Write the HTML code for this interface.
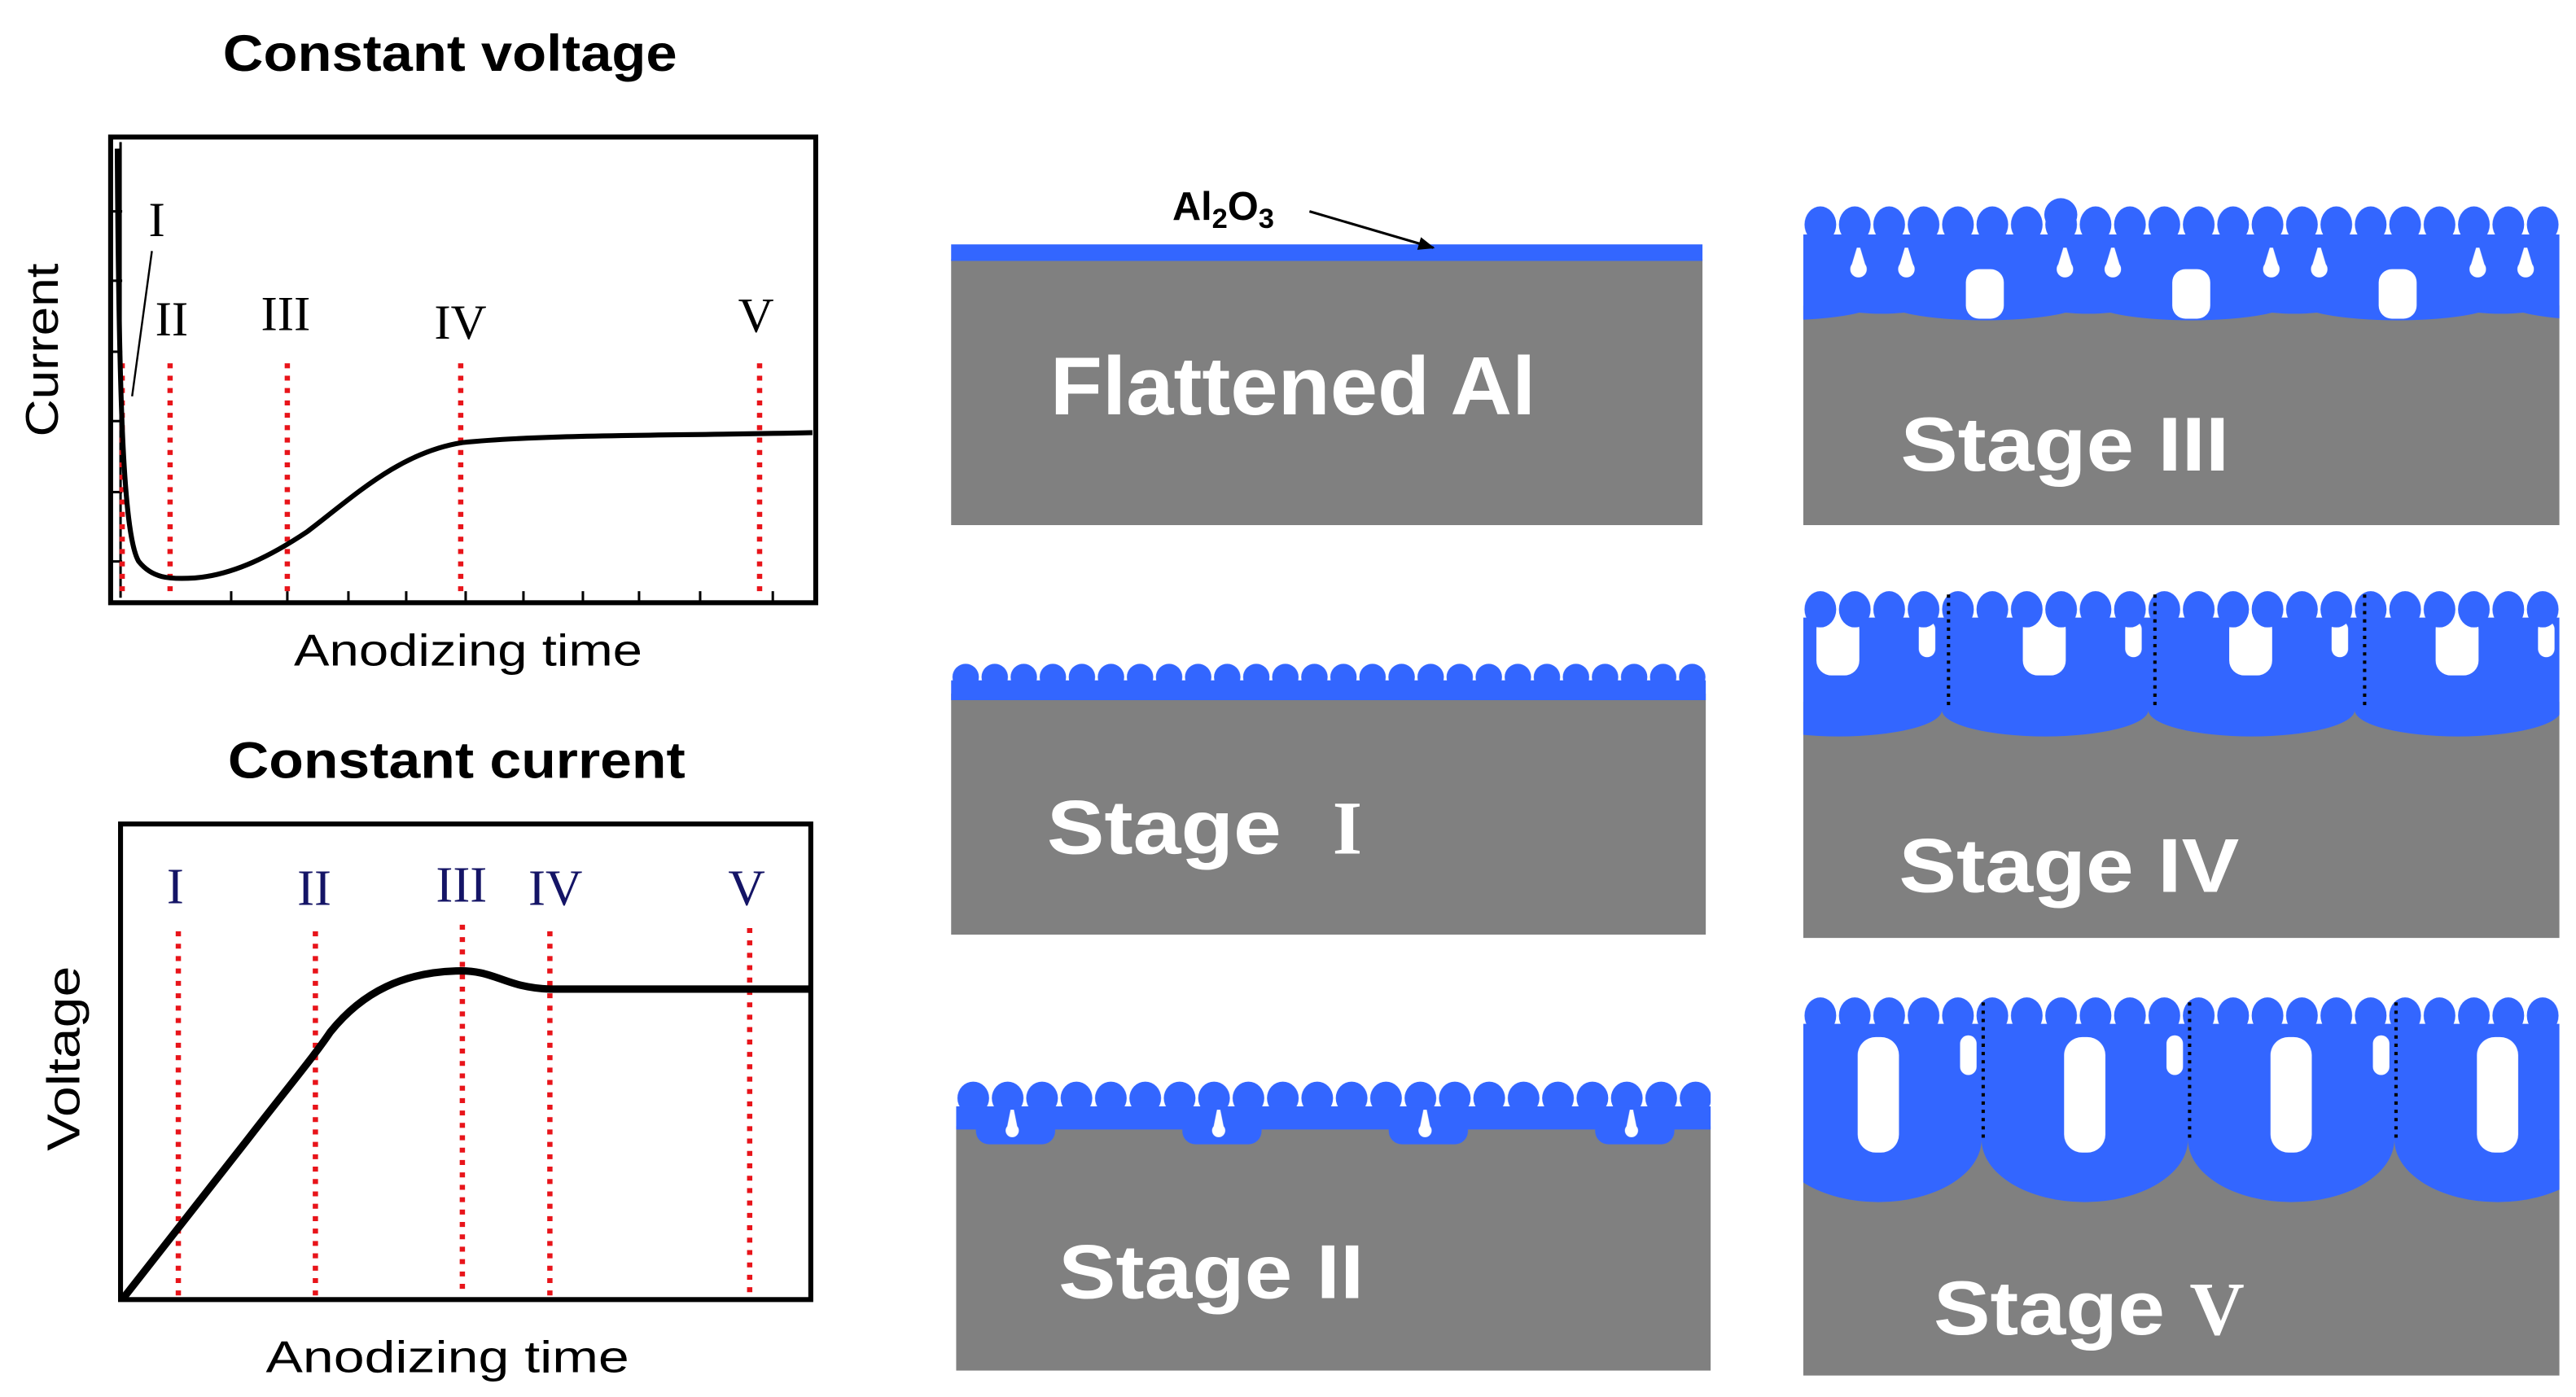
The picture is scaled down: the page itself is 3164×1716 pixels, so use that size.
<!DOCTYPE html>
<html><head><meta charset="utf-8"><style>
html,body{margin:0;padding:0;background:#fff;}
svg{display:block;}
</style></head><body>
<svg width="3164" height="1716" viewBox="0 0 1560 846" preserveAspectRatio="none" xmlns="http://www.w3.org/2000/svg">
<defs>
  <pattern id="b1" patternUnits="userSpaceOnUse" x="576" y="0" width="17.6" height="846">
    <circle cx="8.8" cy="410" r="8" fill="#3366ff"/>
  </pattern>
  <pattern id="b2" patternUnits="userSpaceOnUse" x="579" y="0" width="20.83" height="846">
    <ellipse cx="10.4" cy="665" rx="9.6" ry="10" fill="#3366ff"/>
  </pattern>
  <pattern id="b3" patternUnits="userSpaceOnUse" x="1092" y="0" width="20.83" height="846">
    <ellipse cx="10.4" cy="136" rx="9.6" ry="11" fill="#3366ff"/>
  </pattern>
  <pattern id="b4" patternUnits="userSpaceOnUse" x="1092" y="0" width="20.83" height="846">
    <ellipse cx="10.4" cy="369" rx="9.6" ry="11" fill="#3366ff"/>
  </pattern>
  <pattern id="b5" patternUnits="userSpaceOnUse" x="1092" y="0" width="20.83" height="846">
    <ellipse cx="10.4" cy="615" rx="9.6" ry="11" fill="#3366ff"/>
  </pattern>
  <pattern id="c2" patternUnits="userSpaceOnUse" x="579" y="0" width="125" height="846">
    <rect x="0" y="670" width="125" height="14" fill="#3366ff"/>
    <rect x="12" y="676" width="48" height="17" rx="8" fill="#3366ff"/>
    <path d="M33 672 L35 672 L37 682 A4 4 0 1 1 31 682 Z" fill="#fff"/>
  </pattern>
  <pattern id="c3" patternUnits="userSpaceOnUse" x="1139.5" y="0" width="125" height="846">
    <rect x="0" y="142" width="125" height="40" fill="#3366ff"/>
    <ellipse cx="62.5" cy="182" rx="62" ry="12" fill="#3366ff"/>
    <ellipse cx="0" cy="182" rx="34" ry="8" fill="#3366ff"/>
    <ellipse cx="125" cy="182" rx="34" ry="8" fill="#3366ff"/>
    <rect x="51" y="163" width="23" height="30" rx="8" fill="#fff"/>
    <path d="M14 150 L16 150 L19 160 A5 5 0 1 1 11 160 Z" fill="#fff"/>
    <path d="M110 150 L112 150 L115 160 A5 5 0 1 1 107 160 Z" fill="#fff"/>
  </pattern>
  <pattern id="c4" patternUnits="userSpaceOnUse" x="1051" y="0" width="125" height="846">
    <rect x="0" y="374" width="125" height="56" fill="#3366ff"/>
    <ellipse cx="62.5" cy="430" rx="62.5" ry="16" fill="#3366ff"/>
    <rect x="49" y="372" width="26" height="37" rx="9" fill="#fff"/>
    <rect x="111" y="376" width="10" height="22" rx="5" fill="#fff"/>
  </pattern>
  <pattern id="c5" patternUnits="userSpaceOnUse" x="1075" y="0" width="125" height="846">
    <rect x="0" y="620" width="125" height="70" fill="#3366ff"/>
    <ellipse cx="62.5" cy="690" rx="62.5" ry="38" fill="#3366ff"/>
    <rect x="50" y="628" width="25" height="70" rx="11" fill="#fff"/>
    <rect x="112" y="627" width="10" height="24" rx="5" fill="#fff"/>
  </pattern>
  <clipPath id="k3"><rect x="1092" y="110" width="458" height="210"/></clipPath>
  <clipPath id="k4"><rect x="1092" y="350" width="458" height="220"/></clipPath>
  <clipPath id="k5"><rect x="1092" y="598" width="458" height="236"/></clipPath>
  <clipPath id="k2"><rect x="579" y="645" width="457" height="186"/></clipPath>
  <marker id="ar" markerWidth="10" markerHeight="8" refX="9" refY="4" orient="auto" markerUnits="userSpaceOnUse">
    <path d="M0 0 L10 4 L0 8 Z" fill="#000"/>
  </marker>
</defs>

<text x="135" y="43" font-family="Liberation Sans, sans-serif" font-weight="bold" font-size="31" textLength="275" lengthAdjust="spacingAndGlyphs">Constant voltage</text>
<rect x="67" y="83" width="427" height="282" fill="none" stroke="#000" stroke-width="3"/>
<line x1="73" y1="86" x2="73" y2="362" stroke="#000" stroke-width="1.5"/>
<g stroke="#000" stroke-width="1.5">
  <line x1="140" y1="365" x2="140" y2="358"/><line x1="211" y1="365" x2="211" y2="358"/>
  <line x1="282" y1="365" x2="282" y2="358"/><line x1="353" y1="365" x2="353" y2="358"/>
  <line x1="424" y1="365" x2="424" y2="358"/><line x1="468" y1="365" x2="468" y2="358"/>
  <line x1="387" y1="365" x2="387" y2="358"/><line x1="317" y1="365" x2="317" y2="358"/>
  <line x1="246" y1="365" x2="246" y2="358"/><line x1="174" y1="365" x2="174" y2="358"/>
  <line x1="67" y1="128" x2="74" y2="128"/><line x1="67" y1="170" x2="74" y2="170"/>
  <line x1="67" y1="213" x2="74" y2="213"/><line x1="67" y1="255" x2="74" y2="255"/>
  <line x1="67" y1="298" x2="74" y2="298"/><line x1="67" y1="340" x2="74" y2="340"/>
</g>
<text transform="translate(35,212) rotate(-90)" text-anchor="middle" font-family="Liberation Sans, sans-serif" font-size="28" textLength="105" lengthAdjust="spacingAndGlyphs">Current</text>
<g stroke="#e8141a" stroke-width="3.2" stroke-dasharray="3 4.5">
  <line x1="74" y1="220" x2="74" y2="362"/>
  <line x1="103" y1="220" x2="103" y2="362"/>
  <line x1="174" y1="220" x2="174" y2="362"/>
  <line x1="279" y1="220" x2="279" y2="362"/>
  <line x1="460" y1="220" x2="460" y2="362"/>
</g>
<path d="M71,90 C72,250 75,325 84,340 C92,350 102,351 118,350 C142,348 165,336 186,322 C215,300 242,274 280,268 C330,263 400,264 492,262" fill="none" stroke="#000" stroke-width="3"/>
<line x1="92" y1="152" x2="80" y2="240" stroke="#000" stroke-width="1.2"/>
<g font-family="Liberation Serif, serif" font-size="30">
  <text x="90" y="143">I</text>
  <text x="94" y="203">II</text>
  <text x="158" y="200">III</text>
  <text x="263" y="205">IV</text>
  <text x="447" y="201">V</text>
</g>
<text x="178" y="403" font-family="Liberation Sans, sans-serif" font-size="27" textLength="211" lengthAdjust="spacingAndGlyphs">Anodizing time</text>

<text x="138" y="471" font-family="Liberation Sans, sans-serif" font-weight="bold" font-size="31" textLength="277" lengthAdjust="spacingAndGlyphs">Constant current</text>
<rect x="73" y="499" width="418" height="288" fill="none" stroke="#000" stroke-width="3"/>
<text transform="translate(48,641) rotate(-90)" text-anchor="middle" font-family="Liberation Sans, sans-serif" font-size="28" textLength="112" lengthAdjust="spacingAndGlyphs">Voltage</text>
<g stroke="#e8141a" stroke-width="3.2" stroke-dasharray="3 4.5">
  <line x1="108" y1="564" x2="108" y2="785"/>
  <line x1="191" y1="564" x2="191" y2="785"/>
  <line x1="280" y1="560" x2="280" y2="785"/>
  <line x1="333" y1="564" x2="333" y2="785"/>
  <line x1="454" y1="562" x2="454" y2="785"/>
</g>
<path d="M74,787 L150,690 C170,664 190,640 200,625 C220,600 245,589 276,588 C300,587 305,598 333,599 L490,599" fill="none" stroke="#000" stroke-width="4.5"/>
<g font-family="Liberation Serif, serif" font-size="31" fill="#141466">
  <text x="101" y="547">I</text>
  <text x="180" y="548">II</text>
  <text x="264" y="546">III</text>
  <text x="320" y="548">IV</text>
  <text x="441" y="548">V</text>
</g>
<text x="161" y="831" font-family="Liberation Sans, sans-serif" font-size="27" textLength="220" lengthAdjust="spacingAndGlyphs">Anodizing time</text>

<rect x="576" y="157" width="455" height="161" fill="#808080"/>
<rect x="576" y="148" width="455" height="10" fill="#3366ff"/>
<text x="710" y="133" font-family="Liberation Sans, sans-serif" font-weight="bold" font-size="24">Al<tspan font-size="17" dy="5">2</tspan><tspan dy="-5">O</tspan><tspan font-size="17" dy="5">3</tspan></text>
<line x1="793" y1="128" x2="868" y2="150" stroke="#000" stroke-width="1.5" marker-end="url(#ar)"/>
<text x="636" y="251" fill="#fff" font-family="Liberation Sans, sans-serif" font-weight="bold" font-size="50" textLength="294" lengthAdjust="spacingAndGlyphs">Flattened Al</text>

<rect x="576" y="420" width="457" height="146" fill="#808080"/>
<rect x="576" y="400" width="457" height="20" fill="url(#b1)"/>
<rect x="576" y="412" width="457" height="12" fill="#3366ff"/>
<text x="634" y="517" fill="#fff" font-family="Liberation Sans, sans-serif" font-weight="bold" font-size="46" textLength="142" lengthAdjust="spacingAndGlyphs">Stage</text>
<text x="807" y="517" fill="#fff" font-family="Liberation Serif, serif" font-weight="bold" font-size="46">I</text>

<g clip-path="url(#k2)">
<rect x="579" y="682" width="457" height="148" fill="#808080"/>
<rect x="579" y="650" width="457" height="30" fill="url(#b2)"/>
<rect x="579" y="650" width="457" height="50" fill="url(#c2)"/>
</g>
<text x="641" y="786" fill="#fff" font-family="Liberation Sans, sans-serif" font-weight="bold" font-size="46" textLength="185" lengthAdjust="spacingAndGlyphs">Stage II</text>

<g clip-path="url(#k3)">
<rect x="1092" y="185" width="458" height="133" fill="#808080"/>
<rect x="1092" y="120" width="458" height="80" fill="url(#c3)"/>
<rect x="1092" y="120" width="458" height="30" fill="url(#b3)"/>
<circle cx="1248" cy="130" r="10" fill="#3366ff"/>
</g>
<text x="1151" y="285" fill="#fff" font-family="Liberation Sans, sans-serif" font-weight="bold" font-size="46" textLength="199" lengthAdjust="spacingAndGlyphs">Stage III</text>

<g clip-path="url(#k4)">
<rect x="1092" y="425" width="458" height="143" fill="#808080"/>
<rect x="1092" y="355" width="458" height="95" fill="url(#c4)"/>
<rect x="1092" y="355" width="458" height="25" fill="url(#b4)"/>
</g>
<g stroke="#000" stroke-width="2" stroke-dasharray="2 3">
  <line x1="1180" y1="360" x2="1180" y2="430"/>
  <line x1="1305" y1="360" x2="1305" y2="430"/>
  <line x1="1432" y1="360" x2="1432" y2="430"/>
</g>
<text x="1150" y="540" fill="#fff" font-family="Liberation Sans, sans-serif" font-weight="bold" font-size="46" textLength="206" lengthAdjust="spacingAndGlyphs">Stage IV</text>

<g clip-path="url(#k5)">
<rect x="1092" y="690" width="458" height="143" fill="#808080"/>
<rect x="1092" y="603" width="458" height="130" fill="url(#c5)"/>
<rect x="1092" y="600" width="458" height="25" fill="url(#b5)"/>
</g>
<g stroke="#000" stroke-width="2" stroke-dasharray="2 3">
  <line x1="1201" y1="607" x2="1201" y2="690"/>
  <line x1="1326" y1="607" x2="1326" y2="690"/>
  <line x1="1451" y1="607" x2="1451" y2="690"/>
</g>
<text x="1171" y="808" fill="#fff" font-family="Liberation Sans, sans-serif" font-weight="bold" font-size="46" textLength="140" lengthAdjust="spacingAndGlyphs">Stage</text>
<text x="1326" y="808" fill="#fff" font-family="Liberation Serif, serif" font-weight="bold" font-size="46">V</text>
</svg>
</body></html>
